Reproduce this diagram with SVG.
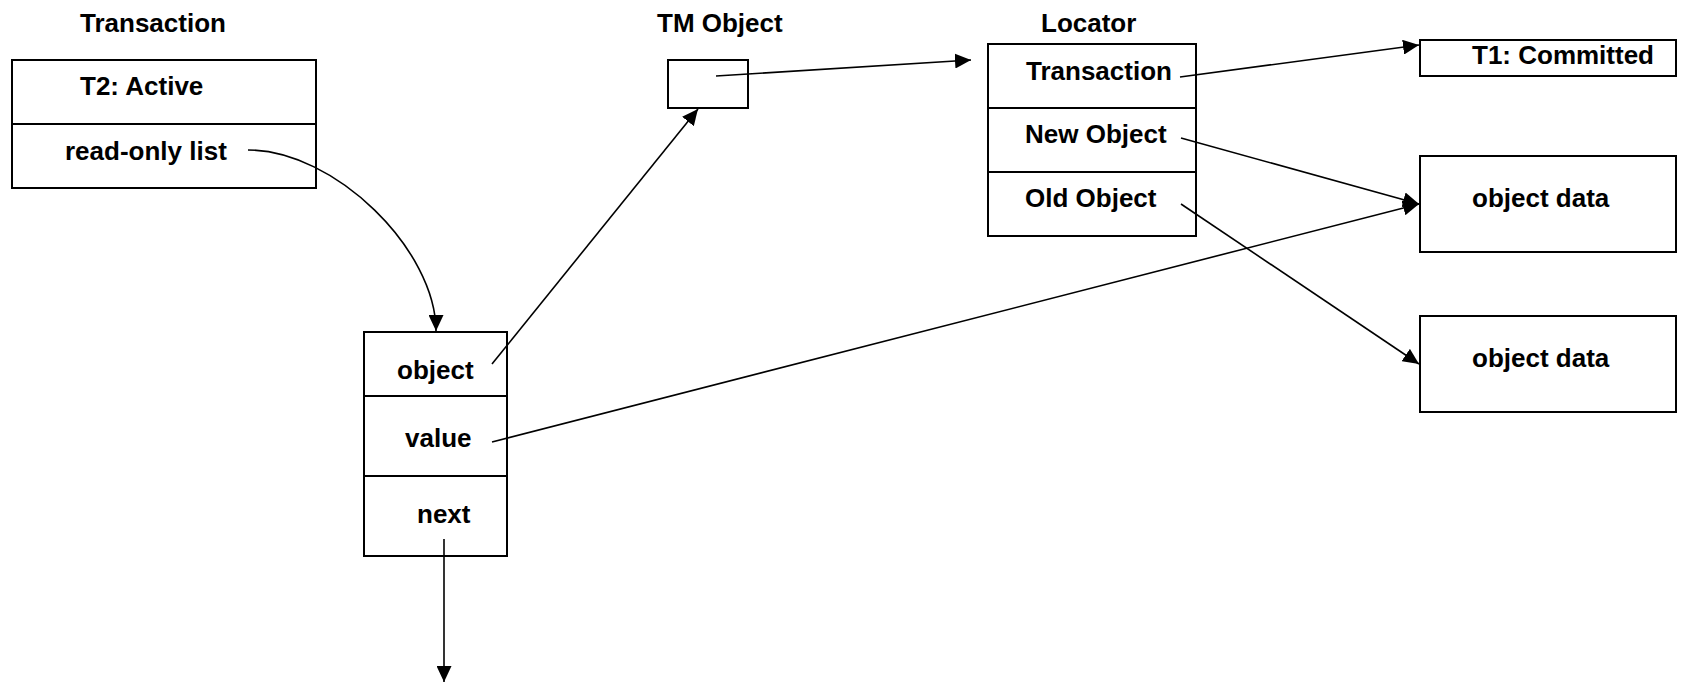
<svg xmlns="http://www.w3.org/2000/svg" width="1685" height="682" viewBox="0 0 1685 682">
<style>
text{font-family:"Liberation Sans",Arial,sans-serif;font-weight:bold;font-size:26px;fill:#000}
.box{fill:#fff;stroke:#000;stroke-width:2}
.div{stroke:#000;stroke-width:2}
.con{fill:none;stroke:#000;stroke-width:1.6}
</style>
<defs>
<marker id="ah" markerUnits="userSpaceOnUse" markerWidth="16" markerHeight="15" viewBox="0 0 16 15" refX="16" refY="7.5" orient="auto">
<path d="M0,0 L16,7.5 L0,15 z" fill="#000"/>
</marker>
</defs>
<rect width="1685" height="682" fill="#fff"/>
<g id="transaction">
<text x="80" y="32">Transaction</text>
<rect class="box" x="12" y="60" width="304" height="128"/>
<line class="div" x1="12" y1="124" x2="316" y2="124"/>
<text x="80" y="95">T2: Active</text>
<text x="65" y="160">read-only list</text>
</g>
<g id="tm-object">
<text x="657" y="32">TM Object</text>
<rect class="box" x="668" y="60" width="80" height="48"/>
</g>
<g id="locator">
<text x="1041" y="32">Locator</text>
<rect class="box" x="988" y="44" width="208" height="192"/>
<line class="div" x1="988" y1="108" x2="1196" y2="108"/>
<line class="div" x1="988" y1="172" x2="1196" y2="172"/>
<text x="1026" y="80">Transaction</text>
<text x="1025" y="143">New Object</text>
<text x="1025" y="207">Old Object</text>
</g>
<g id="t1">
<rect class="box" x="1420" y="40" width="256" height="36"/>
<text x="1472" y="64">T1: Committed</text>
</g>
<g id="data-new">
<rect class="box" x="1420" y="156" width="256" height="96"/>
<text x="1472" y="207">object data</text>
</g>
<g id="data-old">
<rect class="box" x="1420" y="316" width="256" height="96"/>
<text x="1472" y="367">object data</text>
</g>
<g id="list-entry">
<rect class="box" x="364" y="332" width="143" height="224"/>
<line class="div" x1="364" y1="396" x2="507" y2="396"/>
<line class="div" x1="364" y1="476" x2="507" y2="476"/>
<text x="397" y="379">object</text>
<text x="405" y="447">value</text>
<text x="417" y="523">next</text>
</g>
<g id="connectors">
<path class="con" d="M248,150 C335,150 436,250 436,331" marker-end="url(#ah)"/>
<line class="con" x1="492" y1="364" x2="698" y2="109" marker-end="url(#ah)"/>
<line class="con" x1="716" y1="76" x2="971" y2="60" marker-end="url(#ah)"/>
<line class="con" x1="1180" y1="77" x2="1419" y2="45" marker-end="url(#ah)"/>
<line class="con" x1="1181" y1="138" x2="1419" y2="204" marker-end="url(#ah)"/>
<line class="con" x1="1181" y1="204" x2="1419" y2="364" marker-end="url(#ah)"/>
<line class="con" x1="492" y1="442" x2="1419" y2="204" marker-end="url(#ah)"/>
<line class="con" x1="444" y1="539" x2="444" y2="682" marker-end="url(#ah)"/>
</g>
</svg>
